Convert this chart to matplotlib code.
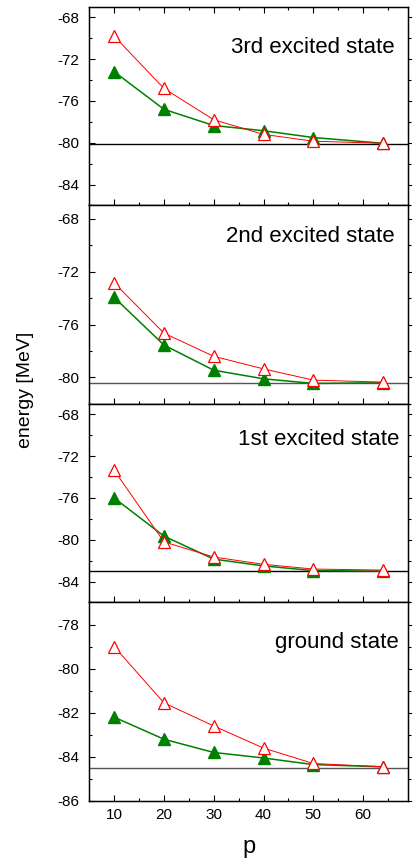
import numpy as np
import matplotlib
matplotlib.use('Agg')
import matplotlib.pyplot as plt
from matplotlib.ticker import MultipleLocator

plt.rcParams['font.family'] = ['Liberation Sans', 'DejaVu Sans']
plt.rcParams['axes.unicode_minus'] = False

p = [10, 20, 30, 40, 50, 64]

# panels top to bottom
titles = ['3rd excited state', '2nd excited state', '1st excited state', 'ground state']
red_vals = [
    [-69.8, -74.8, -77.8, -79.2, -79.85, -80.05],
    [-72.85, -76.65, -78.4, -79.35, -80.2, -80.35],
    [-73.35, -80.2, -81.65, -82.35, -82.8, -82.9],
    [-79.0, -81.55, -82.6, -83.6, -84.3, -84.45],
]
green_vals = [
    [-73.2, -76.8, -78.35, -78.85, -79.5, -80.05],
    [-73.95, -77.55, -79.45, -80.1, -80.45, -80.4],
    [-76.0, -79.65, -81.85, -82.5, -82.95, -83.0],
    [-82.2, -83.2, -83.8, -84.05, -84.35, -84.45],
]
limit_vals = [-80.15, -80.4, -83.0, -84.5]
limit_colors = ['black', '#555555', 'black', '#555555']
ylims = [(-86, -67), (-82, -67), (-86, -67), (-86, -77)]
ymajor = [4, 4, 4, 2]
title_pos = [(0.957, 0.795), (0.957, 0.845), (0.972, 0.82), (0.972, 0.797)]

fig = plt.figure(figsize=(4.12, 8.65), dpi=100)
gs = fig.add_gridspec(4, 1, left=0.2167, right=0.990, top=0.992, bottom=0.074, hspace=0)

for i in range(4):
    ax = fig.add_subplot(gs[i])
    ax.axhline(limit_vals[i], color=limit_colors[i], lw=1.0, zorder=1)
    ax.plot(p, green_vals[i], color='#008000', lw=1.1, marker='^', ms=8.5,
            mfc='#008000', mec='#008000', zorder=2)
    ax.plot(p, red_vals[i], color='red', lw=0.7, marker='^', ms=8.5,
            mfc='white', mec='red', mew=0.9, zorder=3)
    ax.set_xlim(5, 69)
    ax.set_ylim(*ylims[i])
    ax.xaxis.set_major_locator(MultipleLocator(10))
    ax.xaxis.set_minor_locator(MultipleLocator(5))
    ax.yaxis.set_major_locator(MultipleLocator(ymajor[i]))
    ax.yaxis.set_minor_locator(MultipleLocator(ymajor[i] / 2))
    ax.tick_params(axis='y', which='both', direction='in', left=True, right=False,
                   labelsize=11, pad=7)
    ax.tick_params(axis='y', which='major', length=4, width=0.8)
    ax.tick_params(axis='y', which='minor', length=2, width=0.8)
    ax.tick_params(axis='x', which='both', direction='in', bottom=True, top=(i == 0),
                   labelbottom=(i == 3), labelsize=11, pad=5)
    ax.tick_params(axis='x', which='major', length=4, width=0.8)
    ax.tick_params(axis='x', which='minor', length=2, width=0.8)
    for s in ax.spines.values():
        s.set_linewidth(1.0)
    # right side outward ticks
    ax2 = ax.twinx()
    ax2.set_ylim(*ylims[i])
    ax2.yaxis.set_major_locator(MultipleLocator(ymajor[i]))
    ax2.yaxis.set_minor_locator(MultipleLocator(ymajor[i] / 2))
    ax2.tick_params(axis='y', which='both', direction='out', labelright=False, width=0.8)
    ax2.tick_params(axis='y', which='major', length=3)
    ax2.tick_params(axis='y', which='minor', length=2)
    ax.text(title_pos[i][0], title_pos[i][1], titles[i], transform=ax.transAxes,
            ha='right', va='center', fontsize=16)
    if i == 3:
        ax.set_xlabel('p', fontsize=17, labelpad=10)

fig.text(0.061, 0.549, 'energy [MeV]', rotation=90, ha='center', va='center', fontsize=14)

fig.savefig('out.png', dpi=100)
